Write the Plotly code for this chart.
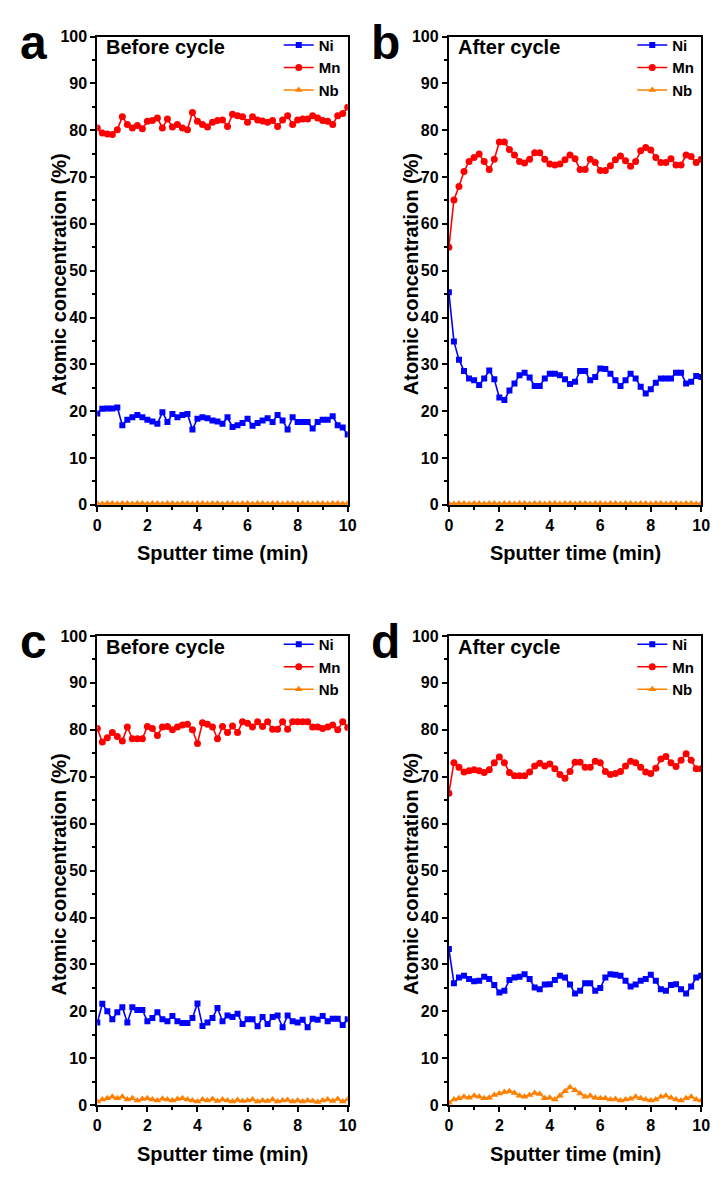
import plotly.graph_objects as go

# ---------------- data ----------------
time_min = [0.0, 0.2, 0.4, 0.6, 0.8, 1.0, 1.2, 1.4, 1.6, 1.8,
            2.0, 2.2, 2.4, 2.6, 2.8, 3.0, 3.2, 3.4, 3.6, 3.8,
            4.0, 4.2, 4.4, 4.6, 4.8, 5.0, 5.2, 5.4, 5.6, 5.8,
            6.0, 6.2, 6.4, 6.6, 6.8, 7.0, 7.2, 7.4, 7.6, 7.8,
            8.0, 8.2, 8.4, 8.6, 8.8, 9.0, 9.2, 9.4, 9.6, 9.8, 10.0]

a_ni = [19.5, 20.5, 20.6, 20.6, 20.8, 17.0, 18.2, 18.7, 19.2, 18.7,
        18.2, 17.8, 17.3, 19.8, 17.7, 19.4, 18.7, 19.2, 19.4, 16.1,
        18.4, 18.7, 18.5, 18.0, 17.8, 17.3, 18.7, 16.6, 17.0, 17.5,
        18.4, 16.9, 17.5, 18.0, 18.5, 17.7, 19.2, 18.0, 16.1, 18.7,
        17.7, 17.7, 17.7, 16.3, 17.7, 18.2, 18.2, 18.9, 17.0, 16.5, 15.0]
a_mn = [80.5, 79.4, 79.2, 79.1, 80.1, 82.9, 81.2, 80.5, 81.0, 80.3,
        81.9, 82.1, 82.6, 80.5, 82.4, 80.7, 81.2, 80.5, 80.1, 83.8,
        81.9, 81.2, 80.7, 81.7, 82.1, 82.2, 80.8, 83.4, 83.1, 82.9,
        81.7, 82.9, 82.2, 82.0, 81.7, 82.1, 80.8, 82.2, 83.1, 81.2,
        82.2, 82.4, 82.4, 83.1, 82.6, 82.1, 81.9, 81.2, 83.1, 83.6, 84.9]
a_nb = [0.3, 0.2, 0.3, 0.3, 0.2, 0.3, 0.3, 0.2, 0.3, 0.3,
        0.2, 0.3, 0.3, 0.2, 0.3, 0.3, 0.2, 0.3, 0.3, 0.2,
        0.3, 0.3, 0.2, 0.3, 0.3, 0.2, 0.3, 0.3, 0.2, 0.3,
        0.3, 0.2, 0.3, 0.3, 0.2, 0.3, 0.3, 0.2, 0.3, 0.3,
        0.2, 0.3, 0.3, 0.2, 0.3, 0.3, 0.2, 0.3, 0.3, 0.2, 0.3]

b_ni = [45.4, 34.9, 31.0, 28.6, 27.0, 26.6, 25.6, 27.0, 28.7, 26.8,
        22.9, 22.4, 24.4, 25.9, 27.7, 28.2, 27.2, 25.4, 25.4, 27.0,
        28.0, 28.0, 27.7, 26.8, 25.8, 26.3, 28.6, 28.6, 26.6, 27.3,
        29.1, 29.0, 28.0, 26.6, 25.4, 26.6, 28.0, 27.0, 25.2, 23.8,
        24.7, 26.1, 27.0, 27.0, 27.0, 28.2, 28.2, 25.9, 26.3, 27.5, 27.3]
b_mn = [55.0, 65.1, 68.0, 71.2, 73.3, 74.2, 74.9, 73.3, 71.6, 73.8,
        77.5, 77.5, 75.9, 74.7, 73.3, 73.0, 73.8, 75.2, 75.2, 73.8,
        72.8, 72.6, 72.8, 73.7, 74.7, 73.9, 71.6, 71.6, 73.8, 73.1,
        71.4, 71.4, 72.4, 73.7, 74.5, 73.5, 72.3, 73.3, 75.6, 76.3,
        75.8, 74.2, 73.1, 73.1, 73.9, 72.6, 72.6, 74.7, 74.4, 73.1, 73.8]
b_nb = [0.3, 0.2, 0.3, 0.3, 0.2, 0.3, 0.3, 0.2, 0.3, 0.3,
        0.2, 0.3, 0.3, 0.2, 0.3, 0.3, 0.2, 0.3, 0.3, 0.2,
        0.3, 0.3, 0.2, 0.3, 0.3, 0.2, 0.3, 0.3, 0.2, 0.3,
        0.3, 0.2, 0.3, 0.3, 0.2, 0.3, 0.3, 0.2, 0.3, 0.3,
        0.2, 0.3, 0.3, 0.2, 0.3, 0.3, 0.2, 0.3, 0.3, 0.2, 0.3]

c_ni = [17.6, 21.6, 20.0, 18.3, 19.8, 20.9, 17.6, 20.9, 20.3, 20.3,
        17.9, 18.6, 19.8, 18.3, 17.9, 19.0, 17.9, 17.5, 17.5, 18.6,
        21.7, 16.9, 17.6, 18.6, 20.7, 17.9, 19.1, 18.8, 19.5, 17.3,
        18.3, 18.3, 16.8, 18.8, 17.3, 18.8, 19.1, 16.6, 19.1, 17.9,
        17.6, 18.2, 16.6, 18.4, 18.2, 19.0, 17.9, 18.4, 18.4, 17.1, 18.3]
c_mn = [80.3, 77.4, 78.3, 79.4, 78.6, 77.6, 80.6, 78.1, 78.1, 78.1,
        80.7, 80.3, 78.8, 80.6, 80.7, 80.0, 80.6, 81.0, 81.2, 80.0,
        77.1, 81.5, 81.2, 80.6, 78.1, 80.7, 79.4, 80.8, 79.4, 81.7,
        81.4, 80.6, 81.7, 80.7, 81.7, 80.1, 80.1, 81.7, 80.1, 81.7,
        81.7, 81.7, 81.7, 80.6, 80.6, 80.3, 80.6, 81.0, 80.0, 81.7, 80.5]
c_nb = [0.8, 1.2, 1.5, 1.8, 1.5, 1.8, 1.2, 1.5, 1.0, 1.3,
        1.5, 1.2, 1.0, 1.4, 1.2, 1.0, 1.3, 1.5, 1.2, 1.0,
        0.8, 1.2, 1.0, 1.3, 0.9, 1.2, 1.0, 0.8, 1.1, 0.9,
        1.0, 1.2, 0.8, 1.0, 0.9, 1.2, 0.8, 1.0, 1.1, 0.8,
        1.0, 0.8, 1.0, 0.9, 0.7, 1.0, 1.2, 0.9, 1.3, 0.8, 1.2]

d_ni = [33.3, 26.0, 27.2, 27.6, 26.9, 26.4, 26.5, 27.4, 26.9, 25.6,
        24.0, 24.4, 26.7, 27.2, 27.4, 27.9, 26.9, 25.1, 24.7, 25.7,
        25.8, 26.7, 27.6, 27.2, 25.7, 23.8, 24.4, 26.0, 26.0, 24.4,
        25.0, 27.2, 27.9, 27.8, 27.6, 26.5, 25.3, 25.7, 26.5, 26.9,
        27.8, 26.5, 24.7, 24.4, 25.6, 25.8, 24.7, 23.8, 25.3, 27.2, 27.6]
d_mn = [66.5, 73.0, 72.0, 71.0, 71.3, 71.5, 71.3, 70.9, 71.5, 73.0,
        74.2, 73.0, 70.9, 70.2, 70.2, 70.2, 71.0, 72.3, 72.9, 72.3,
        72.7, 71.7, 70.5, 69.7, 71.1, 73.1, 73.1, 72.0, 72.0, 73.3,
        73.0, 71.1, 70.5, 70.7, 71.1, 72.3, 73.3, 73.0, 72.0, 71.0,
        70.7, 71.8, 73.8, 74.3, 73.0, 72.2, 73.5, 74.9, 73.5, 71.7, 71.7]
d_nb = [0.5, 1.2, 1.5, 1.8, 1.6, 2.0, 1.8, 1.5, 1.6, 2.2,
        2.5, 2.8, 3.0, 2.6, 2.0, 1.8, 2.2, 2.6, 2.4, 1.5,
        1.6, 1.2, 2.0, 3.0, 3.8, 3.2, 2.5, 1.8, 2.0, 1.6,
        1.5, 1.5, 1.2, 1.3, 1.0, 1.2, 1.4, 1.8, 1.5, 1.2,
        1.0, 1.2, 1.8, 2.0, 1.6, 1.2, 1.0, 1.5, 1.8, 1.2, 1.0]

series_names = ["Ni", "Mn", "Nb"]
panel_letters = ["a", "b", "c", "d"]
panel_titles = ["Before cycle", "After cycle", "Before cycle", "After cycle"]
x_ticks = [0, 2, 4, 6, 8, 10]
y_ticks = [0, 10, 20, 30, 40, 50, 60, 70, 80, 90, 100]
x_title = "Sputter time (min)"
y_title = "Atomic concentration (%)"

panels = [(a_ni, a_mn, a_nb), (b_ni, b_mn, b_nb), (c_ni, c_mn, c_nb), (d_ni, d_mn, d_nb)]

# ---------------- styling ----------------
W, H = 724, 1198
FONT = "Arial, Liberation Sans, sans-serif"
colors = ["#0000FF", "#FF0000", "#FF8000"]
symbols = ["square", "circle", "triangle-up"]
msizes = [6, 7, 7]

def px(x):
    return x / W

def py(y):
    return 1 - y / H

xdoms = [[px(95), px(350)], [px(453), px(710)]]
ydoms = [[py(504), py(29)], [py(1113), py(637)]]
boxes = [(95, 350, 29, 504), (453, 710, 29, 504), (95, 350, 637, 1113), (453, 710, 637, 1113)]

fig = go.Figure()
annotations = []
layout = dict(width=W, height=H, margin=dict(l=0, r=0, t=0, b=0),
              paper_bgcolor="white", plot_bgcolor="white",
              font=dict(family=FONT, color="black"))

for i, data in enumerate(panels):
    k = i + 1
    xa = "x" if k == 1 else f"x{k}"
    ya = "y" if k == 1 else f"y{k}"
    lg = "legend" if k == 1 else f"legend{k}"
    for j, name in enumerate(series_names):
        fig.add_trace(go.Scatter(
            x=time_min, y=data[j], mode="lines+markers", name=name,
            xaxis=xa, yaxis=ya, legend=lg,
            line=dict(color=colors[j], width=1.6),
            marker=dict(symbol=symbols[j], size=msizes[j], color=colors[j]),
        ))
    col = i % 2
    row = i // 2
    common = dict(showline=True, linecolor="black", linewidth=2, mirror=True,
                  ticks="outside", ticklen=5, tickwidth=2, tickcolor="black",
                  showgrid=False, zeroline=False,
                  tickfont=dict(family=FONT, size=16, color="black", weight="bold"))
    layout[f"xaxis{k if k > 1 else ''}"] = dict(
        domain=xdoms[col], anchor=ya, range=[0, 10], tickvals=x_ticks,
        minor=dict(dtick=1, ticklen=3, tickwidth=2, tickcolor="black", ticks="outside"),
        **common)
    layout[f"yaxis{k if k > 1 else ''}"] = dict(
        domain=ydoms[row], anchor=xa, range=[0, 100], tickvals=y_ticks,
        minor=dict(dtick=5, ticklen=3, tickwidth=2, tickcolor="black", ticks="outside"),
        **common)
    left, right, top, bottom = boxes[i]
    layout[lg] = dict(x=px(right - 2), y=py(top - 8), xanchor="right", yanchor="top",
                      bgcolor="rgba(0,0,0,0)", tracegroupgap=0,
                      font=dict(family=FONT, size=15, color="black", weight="bold"))
    # panel letter
    annotations.append(dict(text=panel_letters[i], x=px(left - 65), y=py(top + 6),
                            xref="paper", yref="paper", showarrow=False,
                            xanchor="center", yanchor="middle",
                            font=dict(family=FONT, size=48, color="black", weight="bold")))
    # panel title
    annotations.append(dict(text=panel_titles[i], x=px(left + 7), y=py(top + 11),
                            xref="paper", yref="paper", showarrow=False,
                            xanchor="left", yanchor="middle",
                            font=dict(family=FONT, size=20, color="black", weight="bold")))
    # axis titles
    annotations.append(dict(text=x_title, x=px((left + right) / 2), y=py(bottom + 49),
                            xref="paper", yref="paper", showarrow=False,
                            xanchor="center", yanchor="middle",
                            font=dict(family=FONT, size=20, color="black", weight="bold")))
    annotations.append(dict(text=y_title, x=px(left - 39), y=py((top + bottom) / 2 + 4),
                            xref="paper", yref="paper", showarrow=False, textangle=-90,
                            xanchor="center", yanchor="middle",
                            font=dict(family=FONT, size=20, color="black", weight="bold")))

layout["annotations"] = annotations
fig.update_layout(**layout)
fig.write_html("out.html")
